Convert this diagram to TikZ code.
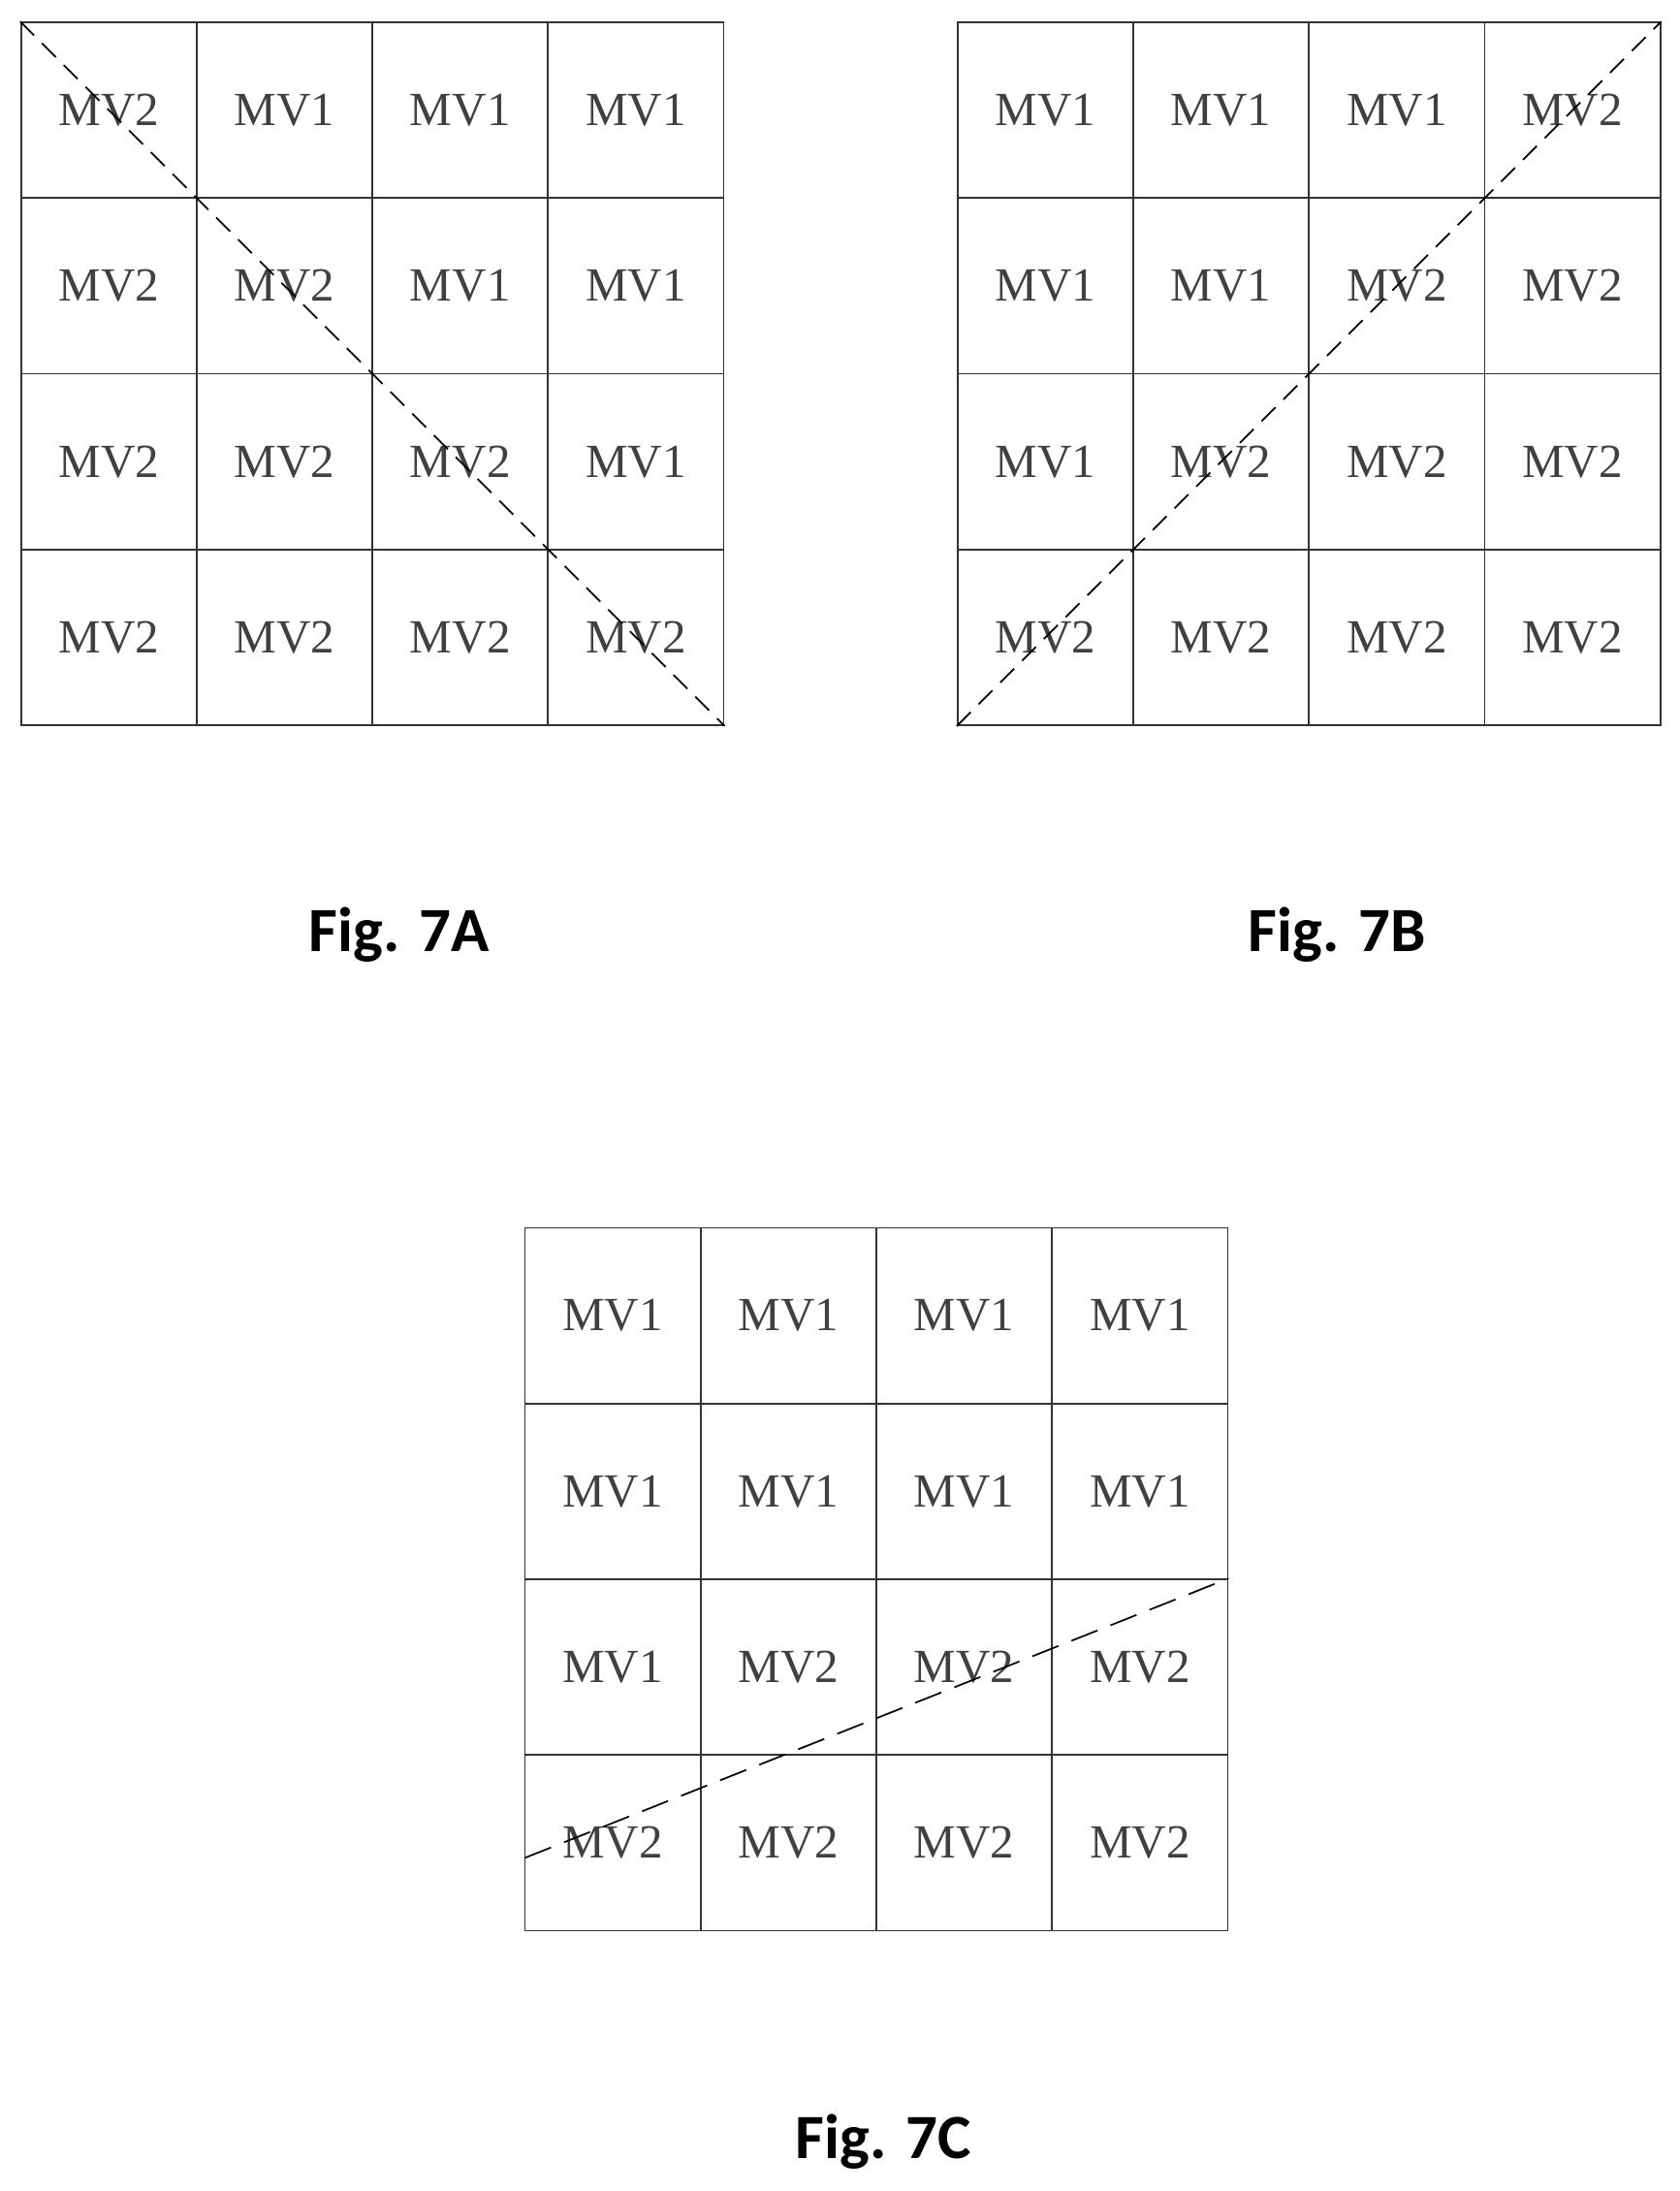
\documentclass[tikz,border=0pt]{standalone}
\usepackage{fontspec}
\setmainfont{Liberation Serif}
\newfontfamily\figfont{Carlito}
\begin{document}
\begin{tikzpicture}[x=0.5pt,y=-0.5pt,
  cell/.style={draw=black!80,line width=0.6pt,minimum width=62.75pt,minimum height=62.75pt,inner sep=0pt,font=\fontsize{17}{17}\selectfont,text=black!75},
  diag/.style={dash pattern=on 7pt off 4pt,line width=0.6pt},
  figcap/.style={font=\figfont\bfseries\fontsize{22.5}{22.5}\selectfont}]
\useasboundingbox (0,0) rectangle (1200,1565);
% Fig 7A
\foreach \r/\row in {0/{2,1,1,1},1/{2,2,1,1},2/{2,2,2,1},3/{2,2,2,2}}{
  \foreach \v [count=\c from 0] in \row {
    \node[cell] (a\r\c) at ({15+62.75+125.5*\c},{16+62.75+125.5*\r}) {MV\v};}}
\draw[diag] (a00.north west) -- (a33.south east);
\node[figcap] (capA) at (285,668) {Fig. 7A};
% Fig 7B
\foreach \r/\row in {0/{1,1,1,2},1/{1,1,2,2},2/{1,2,2,2},3/{2,2,2,2}}{
  \foreach \v [count=\c from 0] in \row {
    \node[cell] (b\r\c) at ({684+62.75+125.5*\c},{16+62.75+125.5*\r}) {MV\v};}}
\draw[diag] (b30.south west) -- (b03.north east);
\node[figcap] (capB) at (955,668) {Fig. 7B};
% Fig 7C
\foreach \r/\row in {0/{1,1,1,1},1/{1,1,1,1},2/{1,2,2,2},3/{2,2,2,2}}{
  \foreach \v [count=\c from 0] in \row {
    \node[cell] (c\r\c) at ({375+62.75+125.5*\c},{877+62.75+125.5*\r}) {MV\v};}}
\coordinate (cL) at (375,1327);
\draw[diag,dash pattern=on 10pt off 5pt] (cL) -- (c23.north east);
\node[figcap] (capC) at (631,1530) {Fig. 7C};
\end{tikzpicture}
\end{document}
